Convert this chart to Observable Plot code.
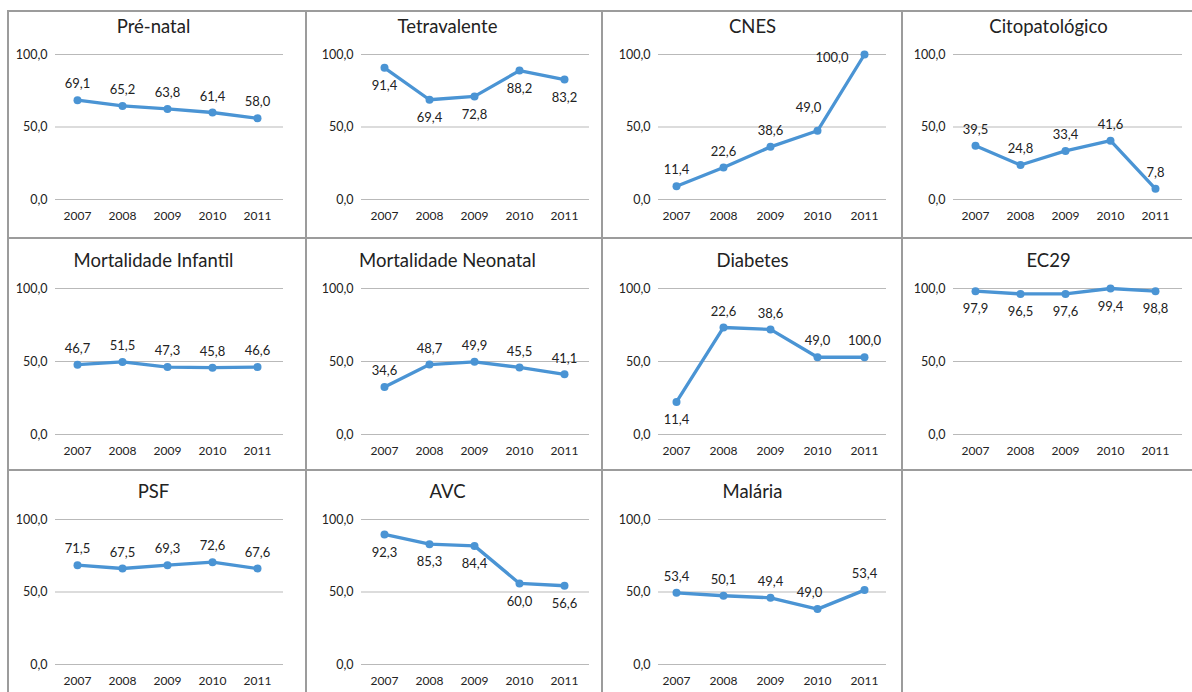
<!DOCTYPE html>
<html><head><meta charset="utf-8">
<script src="https://cdn.jsdelivr.net/npm/d3@7"></script>
<script src="https://cdn.jsdelivr.net/npm/@observablehq/plot@0.6"></script>
<style>
html,body{margin:0;padding:0;background:#fff;overflow:hidden;}
#grid{position:relative;width:1192px;height:692px;overflow:hidden;background:#fff;}
.cell{position:absolute;box-sizing:border-box;border-left:2px solid #9c9c9c;border-top:2px solid #9c9c9c;overflow:hidden;}
.cell svg{display:block;position:absolute;left:0;top:0;}
</style></head><body><div id="grid"></div>
<script>
// ---- data ----
const years = ["2007", "2008", "2009", "2010", "2011"];
const yTicks = [0, 50, 100];
const titles = ["Pré-natal", "Tetravalente", "CNES", "Citopatológico",
  "Mortalidade Infantil", "Mortalidade Neonatal", "Diabetes", "EC29",
  "PSF", "AVC", "Malária"];

// values as drawn by the line
const preNatal     = [68.5, 64.5, 62.5, 60.0, 56.0];
const tetravalente = [90.8, 68.8, 71.1, 88.9, 82.7];
const cnes         = [9.2, 22.1, 36.3, 47.4, 100.0];
const citopatologico = [37.0, 23.8, 33.5, 40.6, 7.4];
const mortInfantil = [47.8, 49.7, 46.2, 45.8, 46.2];
const mortNeonatal = [32.5, 47.9, 49.8, 45.9, 41.2];
const diabetes     = [22.3, 73.3, 72.0, 52.9, 52.9];
const ec29         = [98.2, 96.3, 96.3, 100.0, 98.2];
const psf          = [68.5, 66.2, 68.5, 70.6, 66.2];
const avc          = [89.7, 83.0, 81.8, 55.9, 54.3];
const malaria      = [49.4, 47.4, 46.0, 38.2, 51.3];

// data labels as printed
const preNatalLbl     = [69.1, 65.2, 63.8, 61.4, 58.0];
const tetravalenteLbl = [91.4, 69.4, 72.8, 88.2, 83.2];
const cnesLbl         = [11.4, 22.6, 38.6, 49.0, 100.0];
const citopatologicoLbl = [39.5, 24.8, 33.4, 41.6, 7.8];
const mortInfantilLbl = [46.7, 51.5, 47.3, 45.8, 46.6];
const mortNeonatalLbl = [34.6, 48.7, 49.9, 45.5, 41.1];
const diabetesLbl     = [11.4, 22.6, 38.6, 49.0, 100.0];
const ec29Lbl         = [97.9, 96.5, 97.6, 99.4, 98.8];
const psfLbl          = [71.5, 67.5, 69.3, 72.6, 67.6];
const avcLbl          = [92.3, 85.3, 84.4, 60.0, 56.6];
const malariaLbl      = [53.4, 50.1, 49.4, 49.0, 53.4];

const series = [preNatal, tetravalente, cnes, citopatologico, mortInfantil, mortNeonatal, diabetes, ec29, psf, avc, malaria];
const labels = [preNatalLbl, tetravalenteLbl, cnesLbl, citopatologicoLbl, mortInfantilLbl, mortNeonatalLbl, diabetesLbl, ec29Lbl, psfLbl, avcLbl, malariaLbl];

// ---- layout / style ----
const placements = [
  ["t","t","t","t","t"], ["b","b","b","b","b"], ["t","t","t","tl","l"], ["t","t","t","t","t"],
  ["t","t","t","t","t"], ["t","t","t","t","t"], ["b","t","t","t","t"], ["b","b","b","b","b"],
  ["t","t","t","t","t"], ["b","b","b","b","b"], ["t","t","t","lt","t"]
];
const placeStyle = {
  t: {dx: 0, dy: -16, textAnchor: "middle"},
  b: {dx: 0, dy: 18, textAnchor: "middle"},
  tl: {dx: -9, dy: -23, textAnchor: "middle"},
  lt: {dx: -8, dy: -16, textAnchor: "middle"},
  l: {dx: -16, dy: 3, textAnchor: "end"}
};
const colLeft = [7, 305, 601, 901];
const colWidth = [298, 296, 300, 301];
const colML = [46, 54, 55, 50];
const colMR = [22, 12, 15, 20];
const colInset = [[22, 26], [21, 24], [18, 22], [21, 26]];
const colTitleX = [144, 140, 149, 145];
const rowTop = [10, 237, 469];
const rowHeight = [227, 232, 223];
const rowMT = [42, 49, 48];
const rowMB = [38, 35, 28];
const rowTitleY = [15, 22, 21];
const blue = "#4a94d4";
const font = "Lato, 'Open Sans', sans-serif";
const fmt = v => v.toFixed(1).replace(".", ",");

const grid = document.getElementById("grid");

for (let i = 0; i < 12; i++) {
  const c = i % 4, r = Math.floor(i / 4);
  const cell = document.createElement("div");
  cell.className = "cell";
  cell.style.left = colLeft[c] + "px";
  cell.style.top = rowTop[r] + "px";
  cell.style.width = colWidth[c] + "px";
  cell.style.height = rowHeight[r] + "px";
  grid.appendChild(cell);
  if (i >= series.length) continue;

  const w = colWidth[c] - 2, h = rowHeight[r] - 2;
  const data = years.map((year, j) => ({year, value: series[i][j], label: fmt(labels[i][j]), place: placements[i][j]}));
  const labelMarks = Object.keys(placeStyle).map(p =>
    Plot.text(data.filter(d => d.place === p), {
      x: "year", y: "value", text: "label",
      ...placeStyle[p], fontSize: 13, fill: "#222"
    })
  );

  const chart = Plot.plot({
    width: w, height: h,
    marginLeft: colML[c], marginRight: colMR[c], marginTop: rowMT[r], marginBottom: rowMB[r],
    style: {fontFamily: font, fontSize: "12.5px", color: "#222", background: "transparent"},
    x: {type: "point", domain: years, padding: 0, insetLeft: colInset[c][0], insetRight: colInset[c][1], axis: null},
    y: {domain: [0, 100], axis: null},
    marks: [
      Plot.ruleY(yTicks, {stroke: "#b9b9b9", strokeWidth: 1}),
      Plot.axisY({ticks: yTicks, tickSize: 0, tickPadding: 8, tickFormat: fmt, label: null, fontSize: 12.5, fill: "#222"}),
      Plot.text(years, {x: d => d, frameAnchor: "bottom", lineAnchor: "middle", dy: 17, fontSize: 12, fill: "#222"}),
      Plot.line(data, {x: "year", y: "value", stroke: blue, strokeWidth: 3.3, strokeLinejoin: "round"}),
      Plot.dot(data, {x: "year", y: "value", r: 4, fill: blue}),
      ...labelMarks,
      Plot.text([titles[i]], {frameAnchor: "top-left", lineAnchor: "middle", dx: colTitleX[c] - colML[c], dy: rowTitleY[r] - rowMT[r], textAnchor: "middle", fontSize: 18.5, fill: "#222"})
    ]
  });
  cell.appendChild(chart);
}
</script></body></html>
